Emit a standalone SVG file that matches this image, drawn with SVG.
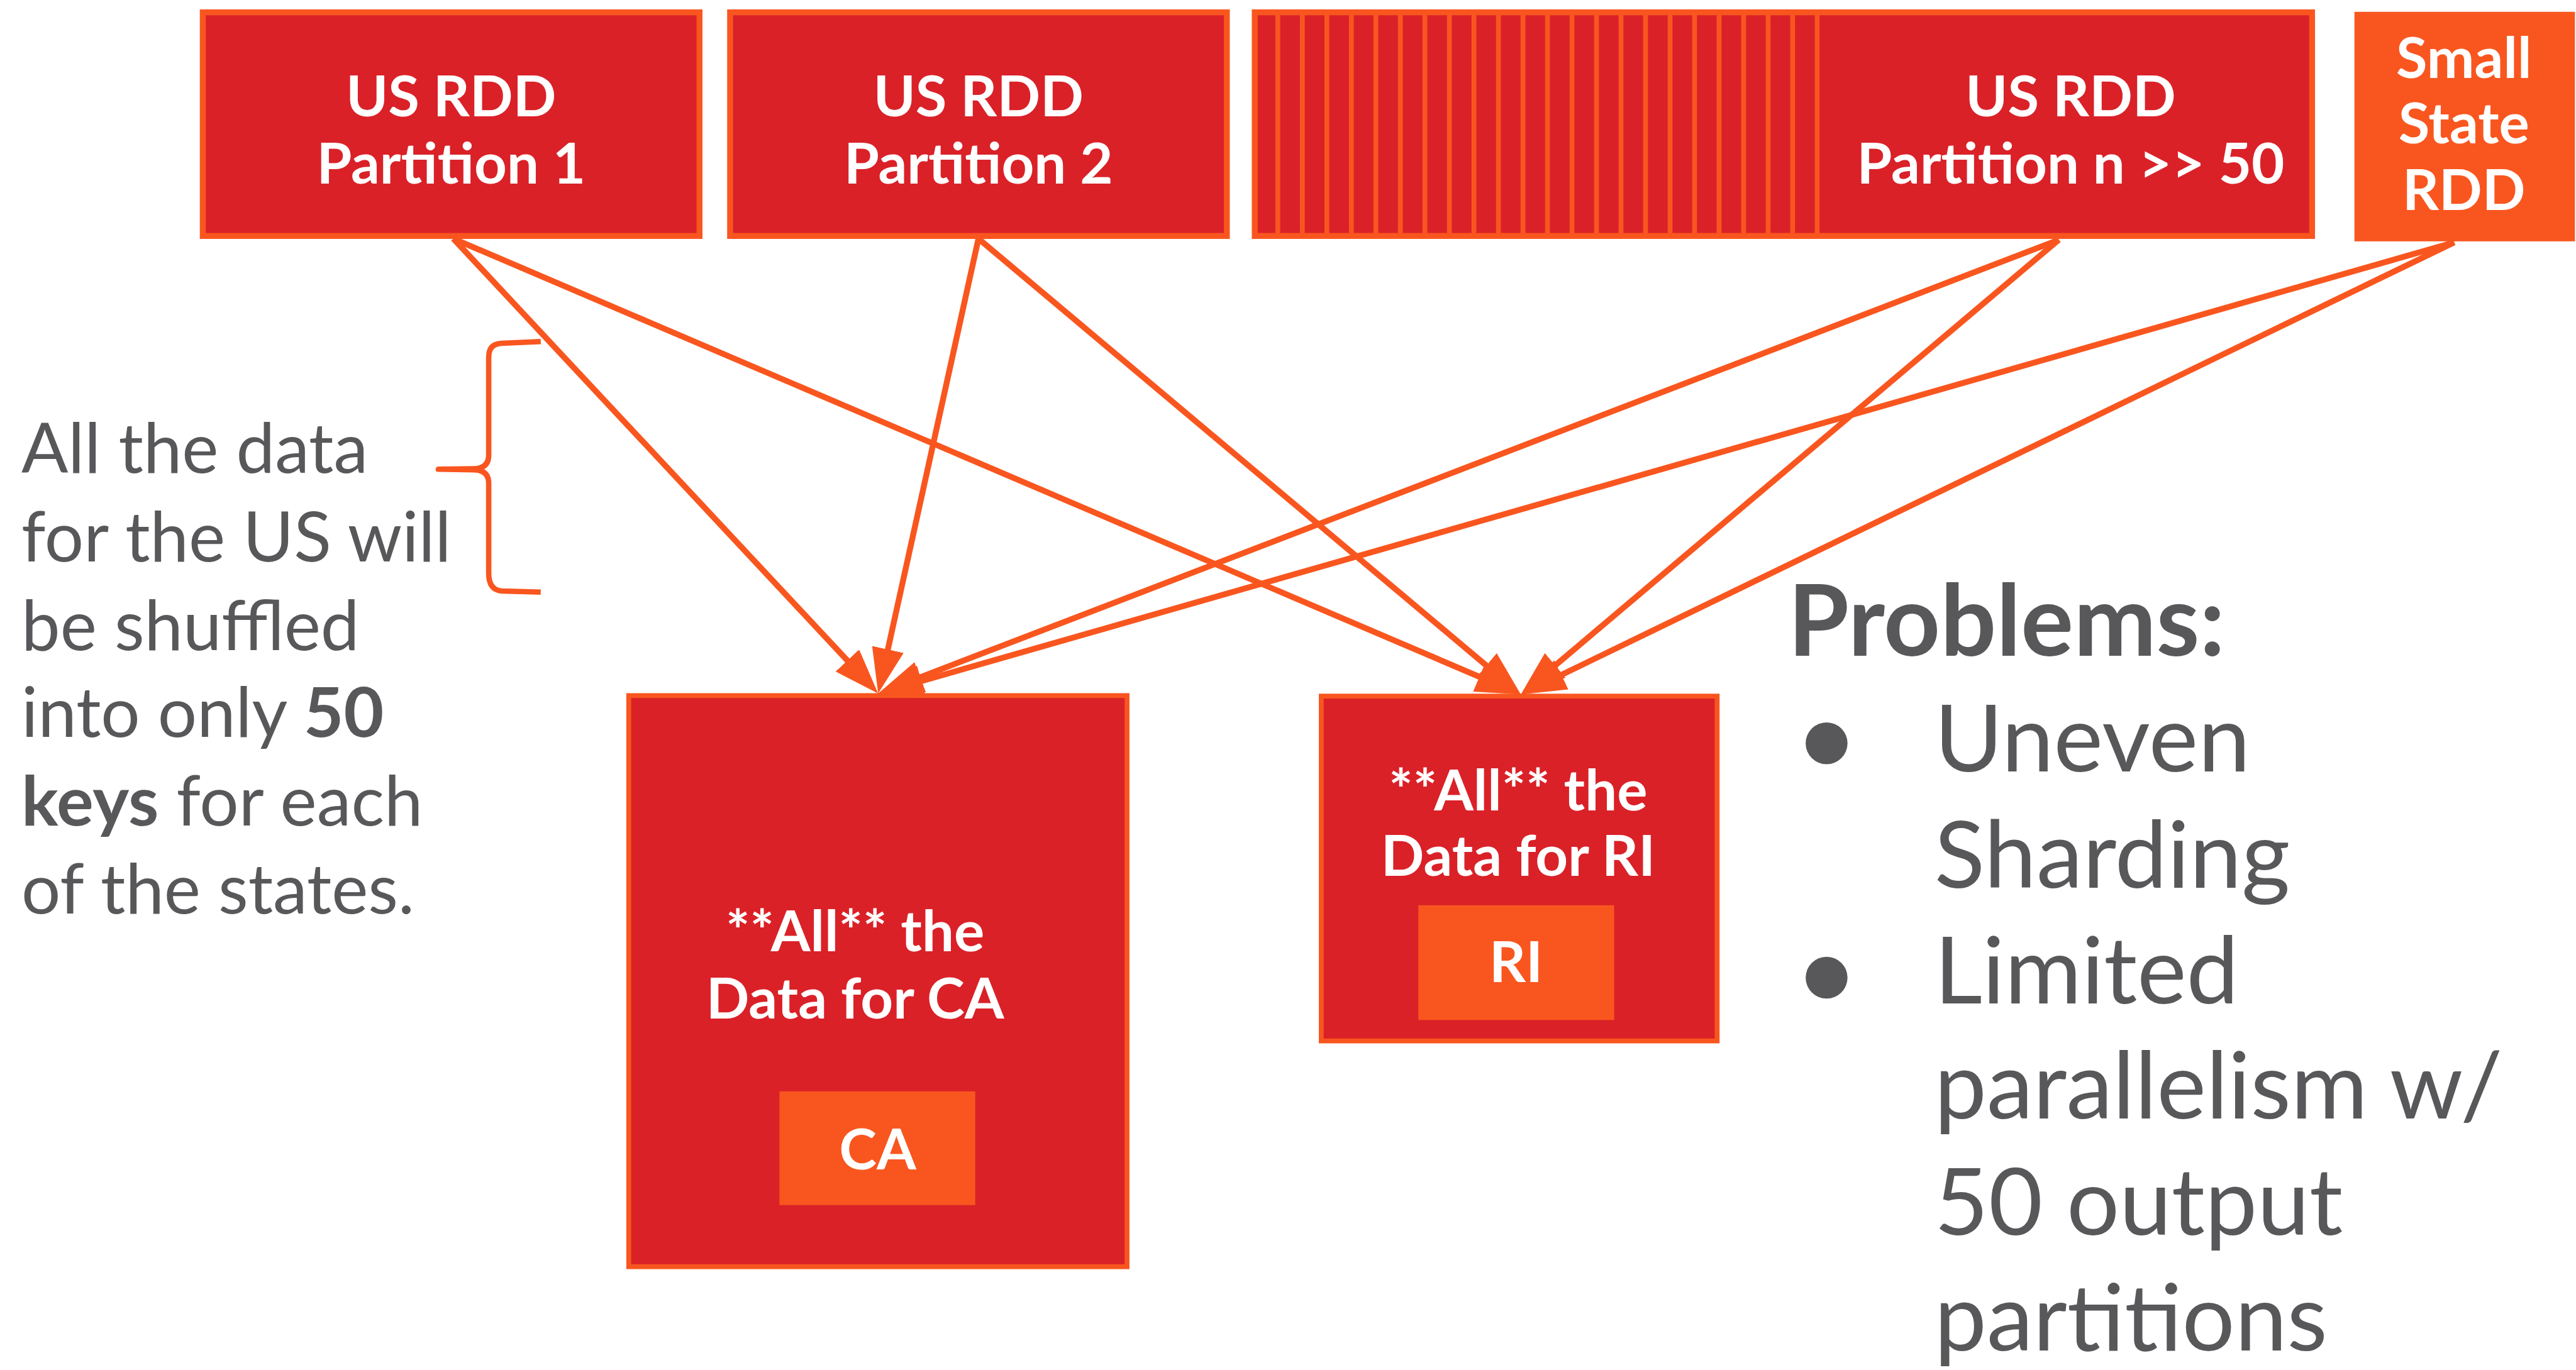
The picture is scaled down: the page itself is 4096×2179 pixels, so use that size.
<svg xmlns="http://www.w3.org/2000/svg" width="4096" height="2179" viewBox="0 0 4096 2179">
  <defs>
    <style>
      .box { fill: #DA2128; stroke: #F9561F; stroke-width: 11; }
      .tag { fill: #F9561F; }
      .stripe { stroke: #F9561F; stroke-width: 9; }
      .lbl { font-family: Lato, "Liberation Sans", sans-serif; font-weight: 700; font-size: 106px; fill: #FFFFFF; text-anchor: middle; }
      .note { font-family: Lato, "Liberation Sans", sans-serif; font-size: 129px; fill: #58585B; }
      .list { font-family: Lato, "Liberation Sans", sans-serif; font-size: 174px; fill: #58585B; }
      .head1 { font-family: Lato, "Liberation Sans", sans-serif; font-size: 184px; font-weight: 700; fill: #58585B; }
      .b { font-weight: 700; }
      .edge { stroke: #F9561F; stroke-width: 11; fill: none; marker-end: url(#head); }
    </style>
    <marker id="head" markerUnits="userSpaceOnUse" viewBox="0 0 84 60" markerWidth="84" markerHeight="60" refX="64" refY="30" orient="auto">
      <path d="M0,0 L84,30 L0,60 Z" fill="#F9561F"/>
    </marker>
  </defs>
  <rect width="4096" height="2179" fill="#FFFFFF"/>
  <g transform="scale(0.852978)">
    <g id="us-partition-1">
      <rect class="box" x="378" y="23" width="926" height="417"/>
      <text class="lbl" x="841" y="217">US RDD</text>
      <text class="lbl" x="841" y="342">Partition 1</text>
    </g>
    <g id="us-partition-2">
      <rect class="box" x="1361" y="23" width="926" height="417"/>
      <text class="lbl" x="1824" y="217">US RDD</text>
      <text class="lbl" x="1824" y="342">Partition 2</text>
    </g>
    <g id="us-partition-n">
      <rect class="box" x="2339" y="23" width="1971" height="417"/>
      <g class="stripes">
        <line class="stripe" x1="2382" y1="28" x2="2382" y2="435"/>
        <line class="stripe" x1="2427.7" y1="28" x2="2427.7" y2="435"/>
        <line class="stripe" x1="2473.4" y1="28" x2="2473.4" y2="435"/>
        <line class="stripe" x1="2519.1" y1="28" x2="2519.1" y2="435"/>
        <line class="stripe" x1="2564.8" y1="28" x2="2564.8" y2="435"/>
        <line class="stripe" x1="2610.5" y1="28" x2="2610.5" y2="435"/>
        <line class="stripe" x1="2656.2" y1="28" x2="2656.2" y2="435"/>
        <line class="stripe" x1="2701.9" y1="28" x2="2701.9" y2="435"/>
        <line class="stripe" x1="2747.6" y1="28" x2="2747.6" y2="435"/>
        <line class="stripe" x1="2793.3" y1="28" x2="2793.3" y2="435"/>
        <line class="stripe" x1="2839" y1="28" x2="2839" y2="435"/>
        <line class="stripe" x1="2884.7" y1="28" x2="2884.7" y2="435"/>
        <line class="stripe" x1="2930.4" y1="28" x2="2930.4" y2="435"/>
        <line class="stripe" x1="2976.1" y1="28" x2="2976.1" y2="435"/>
        <line class="stripe" x1="3021.8" y1="28" x2="3021.8" y2="435"/>
        <line class="stripe" x1="3067.5" y1="28" x2="3067.5" y2="435"/>
        <line class="stripe" x1="3113.2" y1="28" x2="3113.2" y2="435"/>
        <line class="stripe" x1="3158.9" y1="28" x2="3158.9" y2="435"/>
        <line class="stripe" x1="3204.6" y1="28" x2="3204.6" y2="435"/>
        <line class="stripe" x1="3250.3" y1="28" x2="3250.3" y2="435"/>
        <line class="stripe" x1="3296" y1="28" x2="3296" y2="435"/>
        <line class="stripe" x1="3341.7" y1="28" x2="3341.7" y2="435"/>
        <line class="stripe" x1="3387.4" y1="28" x2="3387.4" y2="435"/>
      </g>
      <text class="lbl" x="3860" y="217">US RDD</text>
      <text class="lbl" x="3860" y="342">Partition n &gt;&gt; 50</text>
    </g>
    <g id="small-state-rdd">
      <rect class="tag" x="4389" y="22" width="411" height="428"/>
      <text class="lbl" x="4593" y="145">Small</text>
      <text class="lbl" x="4593" y="267">State</text>
      <text class="lbl" x="4593" y="391">RDD</text>
    </g>
    <g id="ca-output">
      <rect class="box" x="1172" y="1297" width="929" height="1065" style="stroke-width:9"/>
      <text class="lbl" x="1594" y="1774">**All** the</text>
      <text class="lbl" x="1594" y="1899">Data for CA</text>
      <rect class="tag" x="1453" y="2035" width="365" height="212"/>
      <text class="lbl" x="1636" y="2181">CA</text>
    </g>
    <g id="ri-output">
      <rect class="box" x="2463" y="1298" width="738" height="643" style="stroke-width:9"/>
      <text class="lbl" x="2830" y="1511">**All** the</text>
      <text class="lbl" x="2830" y="1633">Data for RI</text>
      <rect class="tag" x="2644" y="1688" width="365" height="214"/>
      <text class="lbl" x="2826" y="1831">RI</text>
    </g>
    <g id="us-note">
      <path d="M1008,637 L935,640 Q911,641 911,666 L911,849 Q911,873 884,874 L817,875 L884,876 Q911,877 911,901 L911,1069 Q911,1100 935,1102 L1008,1104" fill="none" stroke="#F9561F" stroke-width="10" stroke-linejoin="round"/>
      <text class="note" x="40" y="882">All the data</text>
      <text class="note" x="40" y="1047">for the US will</text>
      <text class="note" x="40" y="1212">be shuffled</text>
      <text class="note" x="40" y="1374">into only <tspan class="b">50</tspan></text>
      <text class="note" x="40" y="1539"><tspan class="b">keys</tspan> for each</text>
      <text class="note" x="40" y="1704">of the states.</text>
    </g>
    <g id="problems">
      <text class="head1" x="3333" y="1223">Problems:</text>
      <circle cx="3405" cy="1386" r="39" fill="#58585B"/>
      <text class="list" x="3606" y="1439">Uneven</text>
      <text class="list" x="3606" y="1655">Sharding</text>
      <circle cx="3405" cy="1823" r="39" fill="#58585B"/>
      <text class="list" x="3606" y="1871">Limited</text>
      <text class="list" x="3606" y="2086">parallelism w/</text>
      <text class="list" x="3606" y="2302">50 output</text>
      <text class="list" x="3606" y="2518">partitions</text>
    </g>
    <g id="connectors">
      <line class="edge" x1="845" y1="445" x2="1623.3" y2="1278.4"/>
      <line class="edge" x1="845" y1="445" x2="2816.6" y2="1287.1"/>
      <line class="edge" x1="1824" y1="445" x2="1641.3" y2="1273.5"/>
      <line class="edge" x1="1824" y1="445" x2="2819.7" y2="1282.1"/>
      <line class="edge" x1="3838" y1="447" x2="1655.7" y2="1285.8"/>
      <line class="edge" x1="3838" y1="447" x2="2850.3" y2="1282.1"/>
      <line class="edge" x1="4575" y1="452" x2="1656.2" y2="1287.5"/>
      <line class="edge" x1="4575" y1="452" x2="2853" y2="1286.3"/>
    </g>
  </g>
</svg>
